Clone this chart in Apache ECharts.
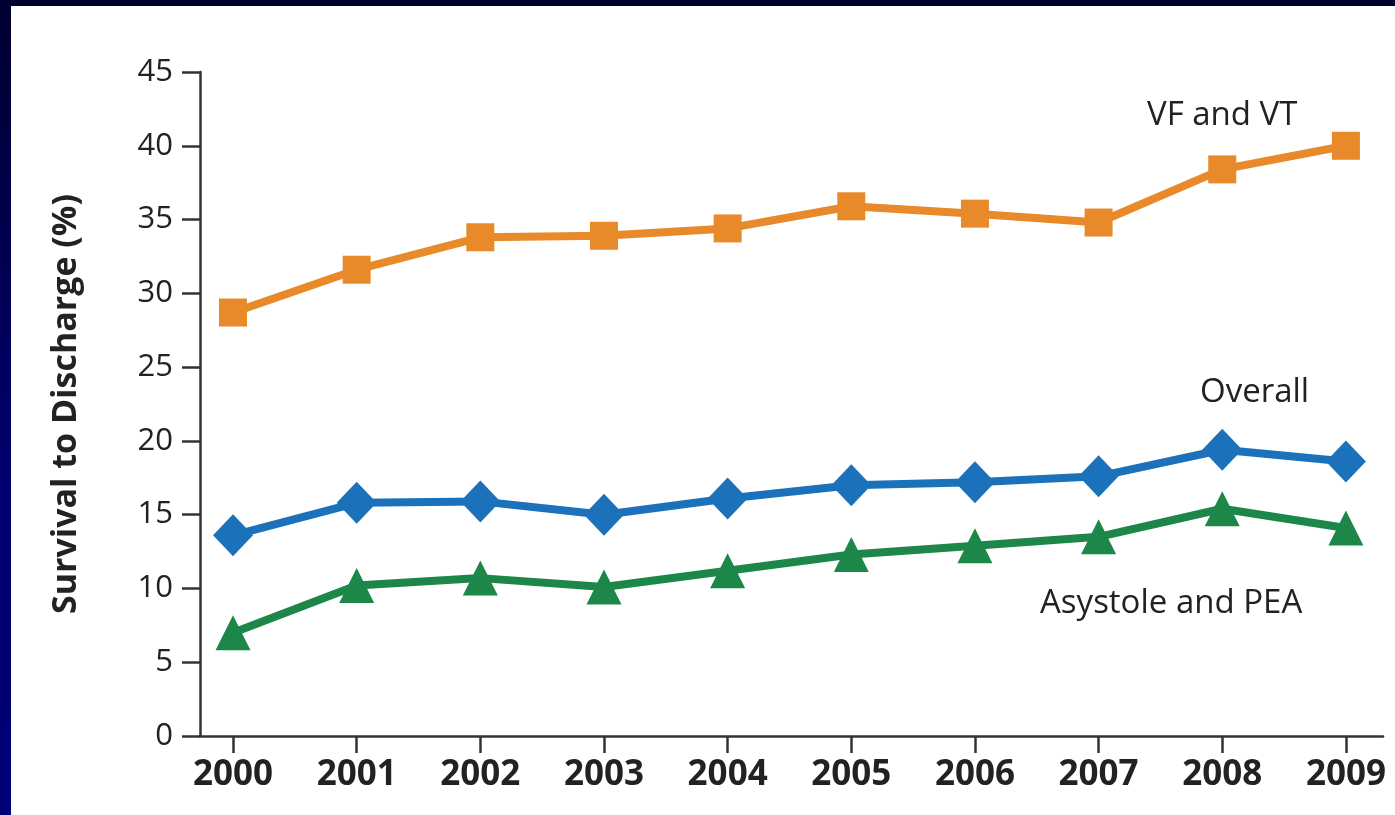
<!DOCTYPE html>
<html>
<head>
<meta charset="utf-8">
<script src="https://cdn.jsdelivr.net/npm/echarts@6/dist/echarts.min.js"></script>
<style>
  html, body { margin: 0; padding: 0; background: #fff; width: 1395px; height: 815px; overflow: hidden; }
  #topband { position: absolute; left: 0; top: 0; width: 1395px; height: 6px; background: #000030; }
  #leftband { position: absolute; left: 0; top: 0; width: 11px; height: 815px; background: linear-gradient(#000030, #000070 60%, #000078); }
  #chart { position: absolute; left: 0; top: 0; width: 1395px; height: 815px; }
</style>
</head>
<body>
<div id="chart"></div>
<div id="topband"></div>
<div id="leftband"></div>
<script>
const years = [2000, 2001, 2002, 2003, 2004, 2005, 2006, 2007, 2008, 2009];
const vfvt = [28.7, 31.6, 33.8, 33.9, 34.4, 35.9, 35.4, 34.8, 38.4, 40.0];
const overall = [13.6, 15.8, 15.9, 15.0, 16.1, 17.0, 17.2, 17.6, 19.4, 18.6];
const asystole = [7.0, 10.2, 10.7, 10.1, 11.2, 12.3, 12.9, 13.5, 15.4, 14.1];
const yTicks = [0, 5, 10, 15, 20, 25, 30, 35, 40, 45];
const seriesNames = ['VF and VT', 'Overall', 'Asystole and PEA'];

const pair = arr => years.map((y, i) => [y, arr[i]]);
const chart = echarts.init(document.getElementById('chart'));
const font = 'Open Sans';
chart.setOption({
  animation: false,
  backgroundColor: 'transparent',
  grid: { left: 200, right: 12, top: 72, bottom: 79 },
  xAxis: {
    type: 'value',
    min: 1999.733,
    max: 2009.3,
    splitLine: { show: false },
    axisLine: { show: true, onZero: false, lineStyle: { color: '#333', width: 2.5 } },
    axisTick: { show: true, length: 17, lineStyle: { color: '#333', width: 2.5 }, customValues: years },
    axisLabel: { customValues: years, margin: 22, color: '#222', fontFamily: font, fontWeight: 'bold', fontSize: 35, formatter: v => String(Math.round(v)) }
  },
  yAxis: {
    type: 'value',
    min: 0, max: 45, interval: 5,
    name: 'Survival to Discharge (%)',
    nameLocation: 'middle',
    nameGap: 117,
    nameTextStyle: { color: '#222', fontFamily: font, fontWeight: 'bold', fontSize: 34 },
    splitLine: { show: false },
    axisLine: { show: true, lineStyle: { color: '#333', width: 2.5 } },
    axisTick: { show: true, length: 18, lineStyle: { color: '#333', width: 2.5 }, customValues: yTicks },
    axisLabel: { customValues: yTicks, margin: 27, color: '#222', fontFamily: font, fontSize: 31 }
  },
  series: [
    { name: seriesNames[0], type: 'line', data: pair(vfvt), symbol: 'rect', symbolSize: 28,
      lineStyle: { color: '#E8892A', width: 8 }, itemStyle: { color: '#E8892A' } },
    { name: seriesNames[1], type: 'line', data: pair(overall), symbol: 'diamond', symbolSize: [40, 42],
      lineStyle: { color: '#1C72BA', width: 8 }, itemStyle: { color: '#1C72BA' } },
    { name: seriesNames[2], type: 'line', data: pair(asystole), symbol: 'triangle', symbolSize: 35,
      lineStyle: { color: '#1C8749', width: 8 }, itemStyle: { color: '#1C8749' } }
  ],
  graphic: [
    { type: 'text', left: 1147, top: 99, style: { text: seriesNames[0], fill: '#222', font: '33px "Open Sans"' } },
    { type: 'text', left: 1200, top: 376, style: { text: seriesNames[1], fill: '#222', font: '33px "Open Sans"' } },
    { type: 'text', left: 1040, top: 587, style: { text: seriesNames[2], fill: '#222', font: '33px "Open Sans"' } }
  ]
});
</script>
</body>
</html>
